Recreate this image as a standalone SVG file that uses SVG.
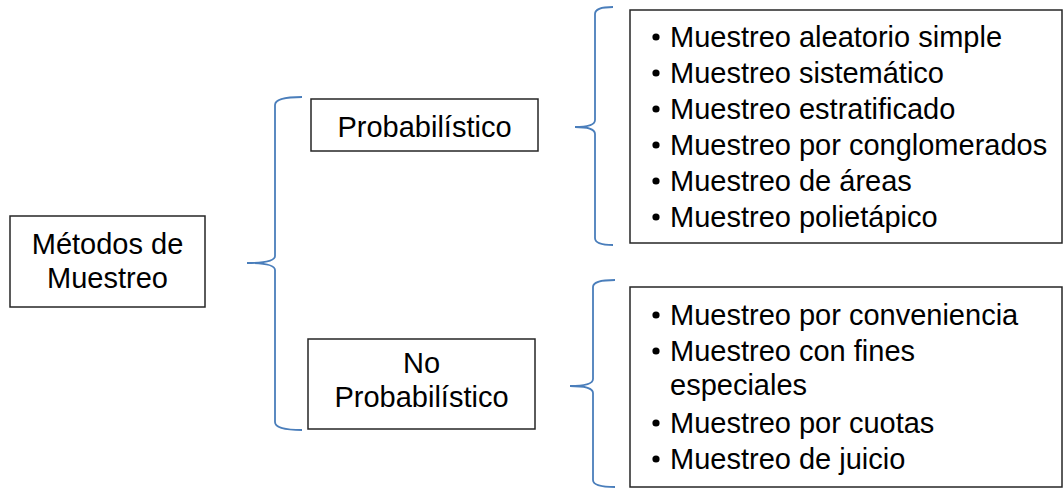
<svg xmlns="http://www.w3.org/2000/svg" width="1063" height="489" viewBox="0 0 1063 489">
<style>
.box{fill:#fff;stroke:#262626;stroke-width:1.5}
.t{font-family:"Liberation Sans",Arial,sans-serif;font-size:29px;fill:#000}
.c{text-anchor:middle}
.br{fill:none;stroke:#4a7ebb;stroke-width:1.8}
</style>
<rect width="1063" height="489" fill="#fff"/>
<g id="connectors">
<path class="br" d="M302,97 Q275,97 275,105 L275,256 Q275,263 247,263 Q275,263 275,270 L275,422 Q275,430 302,430"/>
<path class="br" d="M613,7 Q595,7 595,14 L595,120 Q595,127 575,127 Q595,127 595,134 L595,238 Q595,245 613,245"/>
<path class="br" d="M615,280 Q593,280 593,287 L593,379 Q593,386 570,386 Q593,386 593,393 L593,480 Q593,487 615,487"/>
</g>
<g id="metodos">
<rect class="box" x="10" y="216" width="195" height="91"/>
<text class="t c" x="107.5" y="254">Métodos de</text>
<text class="t c" x="107.5" y="288">Muestreo</text>
</g>
<g id="probabilistico">
<rect class="box" x="311" y="99" width="227" height="52"/>
<text class="t c" x="424.5" y="137">Probabilístico</text>
</g>
<g id="no-probabilistico">
<rect class="box" x="308" y="339" width="227" height="90"/>
<text class="t c" x="421.5" y="373">No</text>
<text class="t c" x="421.5" y="407">Probabilístico</text>
</g>
<g id="lista-probabilistico">
<rect class="box" x="630" y="10" width="432" height="233"/>
<g fill="#000">
<circle cx="656" cy="37" r="3.6"/><circle cx="656" cy="73" r="3.6"/><circle cx="656" cy="109" r="3.6"/>
<circle cx="656" cy="145" r="3.6"/><circle cx="656" cy="181" r="3.6"/><circle cx="656" cy="217" r="3.6"/>
</g>
<text class="t" x="670" y="47">Muestreo aleatorio simple</text>
<text class="t" x="670" y="83">Muestreo sistemático</text>
<text class="t" x="670" y="119">Muestreo estratificado</text>
<text class="t" x="670" y="155">Muestreo por conglomerados</text>
<text class="t" x="670" y="191">Muestreo de áreas</text>
<text class="t" x="670" y="227">Muestreo polietápico</text>
</g>
<g id="lista-no-probabilistico">
<rect class="box" x="630" y="287" width="432" height="200"/>
<g fill="#000">
<circle cx="656" cy="315" r="3.6"/><circle cx="656" cy="351" r="3.6"/>
<circle cx="656" cy="423" r="3.6"/><circle cx="656" cy="459" r="3.6"/>
</g>
<text class="t" x="670" y="325">Muestreo por conveniencia</text>
<text class="t" x="670" y="361">Muestreo con fines</text>
<text class="t" x="670" y="395">especiales</text>
<text class="t" x="670" y="433">Muestreo por cuotas</text>
<text class="t" x="670" y="469">Muestreo de juicio</text>
</g>
</svg>
